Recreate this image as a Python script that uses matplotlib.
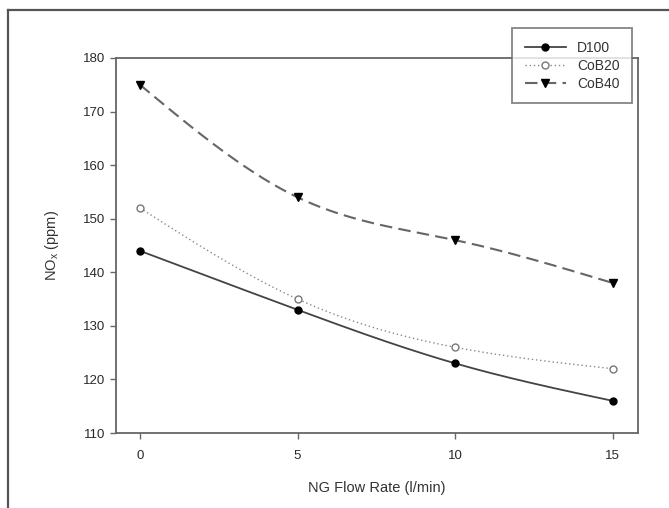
import numpy as np
import matplotlib
matplotlib.use("Agg")
import matplotlib.pyplot as plt
from matplotlib.lines import Line2D

flow = [0, 5, 10, 15]
d100 = [144, 133, 123, 116]
cob20 = [152, 135, 126, 122]
cob40 = [175, 154, 146, 138]
series_names = ["D100", "CoB20", "CoB40"]
yticks = [110, 120, 130, 140, 150, 160, 170, 180]
xticks = [0, 5, 10, 15]

plt.rcParams['font.family'] = ['Liberation Sans', 'DejaVu Sans']


def natural_spline(x, y, n=200):
    x = np.asarray(x, float)
    y = np.asarray(y, float)
    k = len(x)
    h = np.diff(x)
    A = np.zeros((k, k))
    b = np.zeros(k)
    A[0, 0] = 1
    A[-1, -1] = 1
    for i in range(1, k - 1):
        A[i, i - 1] = h[i - 1]
        A[i, i] = 2 * (h[i - 1] + h[i])
        A[i, i + 1] = h[i]
        b[i] = 3 * ((y[i + 1] - y[i]) / h[i] - (y[i] - y[i - 1]) / h[i - 1])
    c = np.linalg.solve(A, b)
    xs = np.linspace(x[0], x[-1], n)
    ys = np.empty_like(xs)
    for j, xv in enumerate(xs):
        i = min(np.searchsorted(x, xv, side='right') - 1, k - 2)
        bb = (y[i + 1] - y[i]) / h[i] - h[i] * (2 * c[i] + c[i + 1]) / 3
        d = (c[i + 1] - c[i]) / (3 * h[i])
        t = xv - x[i]
        ys[j] = y[i] + bb * t + c[i] * t ** 2 + d * t ** 3
    return xs, ys


W, H = 669, 508
fig = plt.figure(figsize=(W / 100, H / 100), dpi=100)
ax = fig.add_axes([116 / W, 1 - 433 / H, (638 - 116) / W, (433 - 58) / H])

styles = [
    dict(ls='-', marker='o', mfc='black', mec='black', lw=1.3, col='#444444', ms=5),
    dict(ls=(0, (1, 2)), marker='o', mfc='white', mec='#777777', lw=1.0, col='#888888', ms=5),
    dict(ls=(0, (6, 3)), marker='v', mfc='black', mec='black', lw=1.5, col='#666666', ms=6),
]
handles = []
for ydata, name, st in zip([d100, cob20, cob40], series_names, styles):
    xs, ys = natural_spline(flow, ydata)
    ax.plot(xs, ys, ls=st['ls'], color=st['col'], lw=st['lw'], zorder=2)
    ax.plot(flow, ydata, ls='none', marker=st['marker'], ms=st['ms'],
            mfc=st['mfc'], mec=st['mec'], mew=1.0, zorder=3)
    handles.append(Line2D([], [], ls=st['ls'], color=st['col'], lw=st['lw'],
                          marker=st['marker'], ms=st['ms'], mfc=st['mfc'],
                          mec=st['mec'], label=name))

ax.set_xlim(-0.76, 15.8)
ax.set_ylim(110, 180)
ax.set_xticks(xticks)
ax.set_yticks(yticks)
for s in ax.spines.values():
    s.set_color('#666666')
    s.set_linewidth(1.3)
ax.tick_params(direction='out', length=4, width=1, colors='#666666',
               labelcolor='#2a2a2a', labelsize=9.5)
ax.tick_params(axis='x', pad=8)
ax.set_xlabel('NG Flow Rate (l/min)', fontsize=10.5, color='#333333', labelpad=14)
ax.set_ylabel('NO$_\\mathregular{x}$ (ppm)', fontsize=10.5, color='#333333', labelpad=16)

leg = fig.legend(handles=handles, loc='upper left',
                 bbox_to_anchor=(512 / W, 1 - 28 / H), borderaxespad=0,
                 frameon=True, fancybox=False, fontsize=10,
                 handlelength=3.0, labelspacing=0.3, borderpad=0.9,
                 handletextpad=0.8, labelcolor='#333333')
leg.get_frame().set_edgecolor('#666666')
leg.get_frame().set_linewidth(1.3)
leg.set_zorder(10)

# outer frame (left and top lines)
fig.add_artist(Line2D([8 / W, 8 / W], [0, 1 - 10 / H], transform=fig.transFigure,
                      color='#555555', lw=1.6))
fig.add_artist(Line2D([8 / W, 1], [1 - 10 / H, 1 - 10 / H], transform=fig.transFigure,
                      color='#555555', lw=1.6))

fig.savefig('out.png', dpi=100)
